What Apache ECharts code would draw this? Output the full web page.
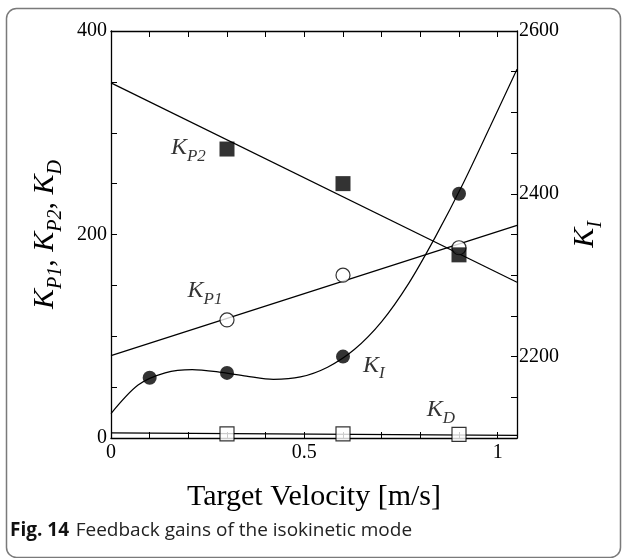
<!DOCTYPE html>
<html><head><meta charset="utf-8">
<script src="https://cdn.jsdelivr.net/npm/echarts@6/dist/echarts.min.js"></script>
<style>html,body{margin:0;padding:0;background:#fff}#c{width:622px;height:558px}</style>
</head><body><div id="c"></div>
<script>
// ---- data ----
const velocity = [0.3, 0.6, 0.9];
const kp1 = [116, 160, 187];
const kp2 = [284, 250, 180];
const kd = [4, 4, 3.5];
const kiVelocity = [0.1, 0.3, 0.6, 0.9];
const ki = [2174, 2180, 2200, 2400];
// fitted lines (endpoints)
const fitX = [0, 1.05];
const kp1Fit = [81, 209];
const kp2Fit = [349, 153];
const kdFit = [5, 2.5];
// fitted K_I curve
const kiCurveX = [0, 0.07, 0.14, 0.21, 0.28, 0.35, 0.42, 0.49, 0.56, 0.63, 0.70, 0.77, 0.84, 0.91, 0.98, 1.05];
const kiCurve = [2130, 2165, 2180, 2184, 2181, 2176, 2172, 2175, 2187, 2209, 2243, 2290, 2348, 2412, 2482, 2553];
// tick labels
const xTickLabels = [0, 0.5, 1];
const leftTickLabels = [0, 200, 400];
const rightTickLabels = [2200, 2400, 2600];
// curve annotation labels
const annotations = [
  {text: '{k|K}{s|P2}', x: 0.2, y: 283},
  {text: '{k|K}{s|P1}', x: 0.243, y: 142},
  {text: '{k|K}{s|I}', x: 0.68, y: 69},
  {text: '{k|K}{s|D}', x: 0.853, y: 25}
];

const serif = '"Liberation Serif","Times New Roman",serif';
const near = (v, arr) => arr.some(a => Math.abs(v - a) < 1e-6);
const zip = (xs, ys) => xs.map((x, i) => [x, ys[i]]);

const chart = echarts.init(document.getElementById('c'), null, {renderer: 'canvas'});
const axisCommon = {
  axisLine: {show: true, onZero: false, lineStyle: {color: '#000', width: 1.3}},
  axisTick: {show: true, inside: true, length: 6, lineStyle: {color: '#000', width: 1}},
  splitLine: {show: false}
};
const richK = (big, small, pad) => ({
  k: {fontFamily: serif, fontStyle: 'italic', fontSize: big, color: '#000', verticalAlign: 'bottom', padding: [0, 0, pad, 0]},
  s: {fontFamily: serif, fontStyle: 'italic', fontSize: small, color: '#000', verticalAlign: 'bottom'},
  n: {fontFamily: serif, fontSize: big, color: '#000', verticalAlign: 'bottom', padding: [0, 0, pad, 0]}
});

const option = {
  animation: false,
  backgroundColor: '#fff',
  grid: {left: 111, right: 105, top: 31, bottom: 120},
  xAxis: [
    Object.assign({}, axisCommon, {
      type: 'value', min: 0, max: 1.05, interval: 0.1, position: 'bottom',
      name: 'Target Velocity [m/s]', nameLocation: 'middle', nameGap: 44,
      nameTextStyle: {fontFamily: serif, fontSize: 30, color: '#000'},
      axisLabel: {fontFamily: serif, fontSize: 20, color: '#000', margin: 5, showMaxLabel: false,
        formatter: v => near(v, xTickLabels) ? String(Math.round(v * 10) / 10) : ''}
    }),
    Object.assign({}, axisCommon, {
      type: 'value', min: 0, max: 1.05, interval: 0.1, position: 'top',
      axisLabel: {show: false}
    })
  ],
  yAxis: [
    Object.assign({}, axisCommon, {
      type: 'value', min: 0, max: 400, interval: 50, position: 'left',
      name: '{k|K}{s|P1}{n|, }{k|K}{s|P2}{n|, }{k|K}{s|D}', nameLocation: 'middle', nameGap: 42, nameRotate: 90,
      nameTextStyle: {rich: richK(30, 20, 6)},
      axisLabel: {fontFamily: serif, fontSize: 20, color: '#000', margin: 4,
        formatter: v => near(v, leftTickLabels) ? String(v) : ''}
    }),
    Object.assign({}, axisCommon, {
      type: 'value', min: 2100, max: 2600, interval: 50, position: 'right',
      name: '{k|K}{s|I}', nameLocation: 'middle', nameGap: 52, nameRotate: 90,
      nameTextStyle: {rich: richK(30, 20, 6)},
      axisLabel: {fontFamily: serif, fontSize: 20, color: '#000', margin: 2,
        formatter: v => near(v, rightTickLabels) ? String(v) : ''}
    })
  ],
  series: [
    {type: 'line', name: 'KP2 fit', data: zip(fitX, kp2Fit), symbol: 'none', lineStyle: {color: '#000', width: 1.2}, z: 2},
    {type: 'line', name: 'KP1 fit', data: zip(fitX, kp1Fit), symbol: 'none', lineStyle: {color: '#000', width: 1.2}, z: 2},
    {type: 'line', name: 'KD fit', data: zip(fitX, kdFit), symbol: 'none', lineStyle: {color: '#000', width: 1.2}, z: 2},
    {type: 'line', name: 'KI fit', yAxisIndex: 1, data: zip(kiCurveX, kiCurve), symbol: 'none',
      smooth: 0.3,
      lineStyle: {color: '#000', width: 1.2}, z: 2},
    {type: 'scatter', name: 'KP1', data: zip(velocity, kp1), symbol: 'circle', symbolSize: 14,
      itemStyle: {color: '#fff', borderColor: '#000', borderWidth: 1.2}, z: 5},
    {type: 'scatter', name: 'KP2', data: zip(velocity, kp2), symbol: 'rect', symbolSize: 15,
      itemStyle: {color: '#000'}, z: 6},
    {type: 'scatter', name: 'KD', data: zip(velocity, kd), symbol: 'rect', symbolSize: 14,
      itemStyle: {color: '#fff', borderColor: '#000', borderWidth: 1.2}, z: 5},
    {type: 'scatter', name: 'KI', yAxisIndex: 1, data: zip(kiVelocity, ki), symbol: 'circle', symbolSize: 14,
      itemStyle: {color: '#000'}, z: 5},
    {type: 'scatter', name: 'labels', data: annotations.map(a => ({value: [a.x, a.y], label: {formatter: a.text}})),
      symbolSize: 0, silent: true, z: 7,
      label: {show: true, position: 'inside', rich: richK(24, 17, 5)}}
  ],
  graphic: [
    {type: 'rect', left: 4, top: 6, shape: {width: 614, height: 549, r: 10},
      style: {fill: 'none', stroke: '#7a7a7a', lineWidth: 1.5}, z: -1},
    {type: 'text', left: 10, top: 521,
      style: {text: '{b|Fig. 14}  {r|Feedback gains of the isokinetic mode}',
        rich: {b: {fontFamily: '"Open Sans","Noto Sans",sans-serif', fontWeight: 'bold', fontSize: 19, fill: '#111'},
               r: {fontFamily: '"Open Sans","Noto Sans",sans-serif', fontSize: 19, fill: '#222'}}}}
  ]
};
chart.setOption(option);
</script></body></html>
